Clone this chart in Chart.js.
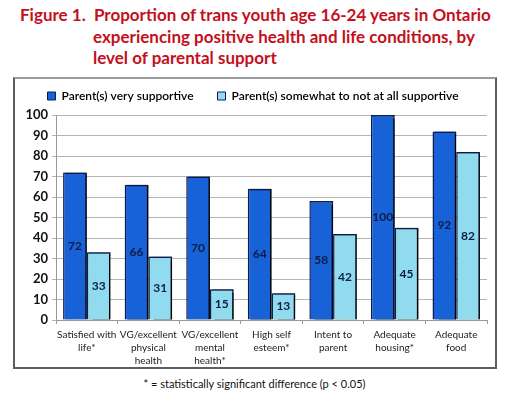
<!DOCTYPE html>
<html>
<head>
<meta charset="utf-8">
<script src="https://cdn.jsdelivr.net/npm/chart.js@4.4.1/dist/chart.umd.min.js"></script>
<style>
  html, body { margin:0; padding:0; background:#fff; }
  body { width:509px; height:396px; position:relative; overflow:hidden; font-family:Lato, "Open Sans", sans-serif; }
  .t { position:absolute; color:#c4101c; font-weight:bold; font-size:17px; white-space:nowrap; line-height:20px; }
  #box { position:absolute; left:13px; top:77px; width:480px; height:288px; border:2px solid #5e5e5e; border-top-color:#9a9a9a; }
  #wrap { position:absolute; left:0; top:0; width:480px; height:288px; }
  #foot { position:absolute; left:0; width:509px; top:377px; text-align:center; font-size:11px; color:#111; }
</style>
</head>
<body>
<div class="t" style="left:20px;top:5px;">Figure 1.&nbsp; Proportion of trans youth age 16-24 years in Ontario</div>
<div class="t" style="left:93px;top:27px;">experiencing positive health and life conditions, by</div>
<div class="t" style="left:93px;top:48px;">level of parental support</div>
<div id="box"><div id="wrap"><canvas id="c"></canvas></div></div>
<div id="foot">* = statistically significant difference (p &lt; 0.05)</div>
<script>
const categories = [
  ["Satisfied with", "life*"],
  ["VG/excellent", "physical", "health"],
  ["VG/excellent", "mental", "health*"],
  ["High self", "esteem*"],
  ["Intent to", "parent"],
  ["Adequate", "housing*"],
  ["Adequate", "food"]
];
const seriesNames = ["Parent(s) very supportive", "Parent(s) somewhat to not at all supportive"];
const verySupportive = [72, 66, 70, 64, 58, 100, 92];
const lessSupportive = [33, 31, 15, 13, 42, 45, 82];
const yTicks = [0, 10, 20, 30, 40, 50, 60, 70, 80, 90, 100];

const shadowPlugin = {
  id: 'shadow',
  beforeDatasetDraw(chart) {
    const ctx = chart.ctx;
    ctx.save();
    ctx.shadowColor = 'rgba(0,0,0,0.85)';
    ctx.shadowOffsetX = 2;
    ctx.shadowOffsetY = 0;
    ctx.shadowBlur = 1;
  },
  afterDatasetDraw(chart) { chart.ctx.restore(); }
};

const labelPlugin = {
  id: 'vals',
  afterDatasetsDraw(chart) {
    const ctx = chart.ctx;
    ctx.save();
    ctx.font = 'bold 12px Lato, sans-serif';
    ctx.fillStyle = '#0d1c4a';
    ctx.textAlign = 'center';
    ctx.textBaseline = 'middle';
    chart.data.datasets.forEach((ds, i) => {
      chart.getDatasetMeta(i).data.forEach((bar, j) => {
        const y = (bar.y + bar.base) / 2;
        ctx.fillText(String(ds.data[j]), bar.x, y);
      });
    });
    ctx.restore();
  }
};

new Chart(document.getElementById('c'), {
  type: 'bar',
  data: {
    labels: categories,
    datasets: [
      { label: seriesNames[0], data: verySupportive, backgroundColor: '#1762d6', borderColor: '#0b1d55', borderWidth: 1.5 },
      { label: seriesNames[1], data: lessSupportive, backgroundColor: '#90dcee', borderColor: '#0b1d55', borderWidth: 1.5 }
    ]
  },
  options: {
    responsive: true,
    maintainAspectRatio: false,
    animation: false,
    layout: { padding: { left: 4, right: 8, top: -13, bottom: 0 } },
    datasets: { bar: { categoryPercentage: 0.77, barPercentage: 1.0 } },
    plugins: {
      legend: {
        position: 'top',
        labels: {
          boxWidth: 8, boxHeight: 8, padding: 24,
          color: '#111',
          font: { family: 'Lato, sans-serif', size: 12, weight: '600' },
          generateLabels(chart) {
            return chart.data.datasets.map((ds, i) => ({
              text: ds.label, fillStyle: ds.backgroundColor, strokeStyle: '#0b1d55', lineWidth: 1, datasetIndex: i, hidden: false
            }));
          }
        }
      },
      subtitle: {
        display: true, text: '', weight: 500, position: 'top',
        font: { size: 1, lineHeight: 1 }, padding: { top: 0, bottom: 2 }
      },
      tooltip: { enabled: false }
    },
    scales: {
      x: {
        afterFit(axis) { axis.height = 47; },
        grid: { display: true, drawOnChartArea: false, drawTicks: true, tickLength: 4, color: '#999', offset: true },
        border: { color: '#999' },
        ticks: { color: '#222', font: { family: 'Lato, sans-serif', size: 10, lineHeight: 1.3 }, maxRotation: 0, autoSkip: false, padding: 4 }
      },
      y: {
        min: 0, max: 100,
        afterBuildTicks(axis) { axis.ticks = yTicks.map(v => ({ value: v })); },
        afterFit(axis) { axis.width = 37; },
        grid: { color: '#b5b5b5', tickLength: 4, lineWidth: 1 },
        border: { color: '#999' },
        ticks: { color: '#111', autoSkip: false, font: { family: 'Lato, sans-serif', size: 13, weight: 'bold' }, padding: 4 }
      }
    }
  },
  plugins: [shadowPlugin, labelPlugin]
});
</script>
</body>
</html>
